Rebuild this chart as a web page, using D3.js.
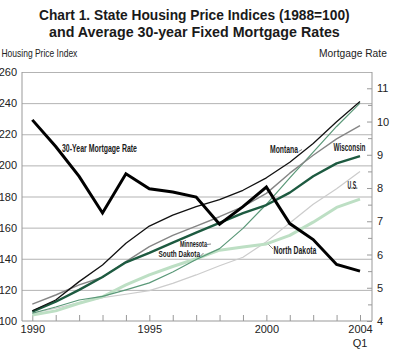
<!DOCTYPE html>
<html>
<head>
<meta charset="utf-8">
<script src="https://cdn.jsdelivr.net/npm/d3@7"></script>
<style>
  body { margin: 0; background: #fff; }
  svg { display: block; }
  text { font-family: "Liberation Sans Narrow", "Arial Narrow", "Liberation Sans", sans-serif; }
</style>
</head>
<body>
<div id="chart"></div>
<script>
const years = [1990, 1991, 1992, 1993, 1994, 1995, 1996, 1997, 1998, 1999, 2000, 2001, 2002, 2003, 2004];

// housing price index, 1988 = 100
const montana = [106.6, 113.5, 125.3, 136, 150, 161, 168, 173.5, 178, 184, 192, 202, 214, 228, 241];
const minnesota = [110.9, 116.7, 123.2, 128.1, 138.1, 147.8, 155, 161, 167, 173.5, 182, 195, 206.5, 217, 225.5];
const wisconsin = [106, 112.4, 120, 128.3, 137.7, 143.8, 150.3, 156.8, 163, 169.3, 174.5, 182.5, 193, 201.3, 206];
const southDakota = [105, 109, 113.5, 115.8, 120, 124.5, 131.5, 139.5, 146.5, 159.5, 175, 192, 208.5, 225, 240];
const unitedStates = [105, 108.2, 111.8, 115, 117.2, 119.5, 124.2, 129.6, 135.5, 141, 151, 163, 175, 185, 196];
const northDakota = [103.9, 106.5, 111.4, 115.6, 123.2, 129.6, 135, 140, 145.5, 147.5, 149.5, 155, 163.5, 173, 178.3];

// 30-year fixed mortgage rate, percent
const mortgageRate = [10.05, 9.25, 8.35, 7.25, 8.43, 7.98, 7.88, 7.73, 6.91, 7.44, 8.03, 6.93, 6.45, 5.7, 5.5];

const leftTicks = [100, 120, 140, 160, 180, 200, 220, 240, 260];
const rightTicks = [4, 5, 6, 7, 8, 9, 10, 11];
const xTickLabels = ["1990", "1995", "2000", "2004"];

const W = 393, H = 353;
const plot = { left: 22, right: 372, top: 72, bottom: 321 };

const svg = d3.select("#chart").append("svg")
    .attr("width", W)
    .attr("height", H);

const x = d3.scaleLinear().domain([1990, 2004]).range([32.3, 360]);
const yL = d3.scaleLinear().domain([100, 260]).range([plot.bottom, plot.top]);
const yR = d3.scaleLinear().domain([4, 11.49]).range([plot.bottom, plot.top]);

// squeeze a text horizontally to a given width (the original uses a condensed face)
function condensed(sel, px, py, width) {
    const natural = sel.node().getComputedTextLength();
    const sx = Math.min(1, width / natural);
    sel.attr("x", 0).attr("y", 0)
        .attr("transform", `translate(${px},${py}) scale(${sx},1)`);
    return sel;
}

// title
condensed(svg.append("text")
    .attr("font-size", 15.5)
    .attr("font-weight", "bold")
    .attr("fill", "#1a1a1a")
    .text("Chart 1. State Housing Price Indices (1988=100)"), 39, 19.5, 311);
condensed(svg.append("text")
    .attr("font-size", 15.5)
    .attr("font-weight", "bold")
    .attr("fill", "#1a1a1a")
    .text("and Average 30-year Fixed Mortgage Rates"), 49, 36.5, 291);

condensed(svg.append("text")
    .attr("font-size", 10.5)
    .attr("fill", "#222")
    .text("Housing Price Index"), 1.5, 56.5, 76);

condensed(svg.append("text")
    .attr("font-size", 10.5)
    .attr("fill", "#222")
    .text("Mortgage Rate"), 319, 56.5, 68);

// gridlines
const grid = svg.append("g")
    .attr("transform", `translate(${plot.left},0)`)
    .call(d3.axisLeft(yL).tickValues(leftTicks.slice(1)).tickSize(-(plot.right - plot.left)).tickFormat(""));
grid.select(".domain").remove();
grid.selectAll("line").attr("stroke", "#b3b3b3").attr("stroke-width", 1);

// left axis
const yAxisL = svg.append("g")
    .attr("transform", `translate(${plot.left},0)`)
    .call(d3.axisLeft(yL).tickValues(leftTicks).tickSize(0).tickPadding(5));
yAxisL.select(".domain").attr("stroke", "#999").attr("d", `M0,${plot.top}V${plot.bottom}`);
yAxisL.selectAll("text").attr("font-size", 11).attr("fill", "#222");

// right axis, with inward ticks and half-point minor ticks
const minorRight = d3.range(4.5, 11.5, 1);
const yAxisRMinor = svg.append("g")
    .attr("transform", `translate(${plot.right},0)`)
    .call(d3.axisLeft(yR).tickValues(minorRight).tickSize(4).tickFormat(""));
yAxisRMinor.select(".domain").remove();
yAxisRMinor.selectAll("line").attr("stroke", "#999");

const yAxisR = svg.append("g")
    .attr("transform", `translate(${plot.right},0)`)
    .call(d3.axisRight(yR).tickValues(rightTicks).tickSizeInner(-5).tickSizeOuter(0).tickPadding(5));
yAxisR.select(".domain").attr("stroke", "#999").attr("d", `M0,${plot.top}V${plot.bottom}`);
yAxisR.selectAll("line").attr("stroke", "#999");
yAxisR.selectAll("text").attr("font-size", 11).attr("fill", "#222").attr("x", 5);

// bottom axis, ticks point up
const xAxis = svg.append("g")
    .attr("transform", `translate(0,${plot.bottom})`)
    .call(d3.axisBottom(x).tickValues(years).tickSizeInner(-6).tickSizeOuter(0)
        .tickFormat(d => xTickLabels.includes(String(d)) ? String(d) : ""));
xAxis.select(".domain").attr("stroke", "#999").attr("d", `M${plot.left},0H${plot.right}`);
xAxis.selectAll("line").attr("stroke", "#999");
xAxis.selectAll("text").attr("font-size", 11).attr("fill", "#222").attr("y", 4).attr("dy", "0.71em");
svg.append("text")
    .attr("x", x(2004))
    .attr("y", 347)
    .attr("text-anchor", "middle")
    .attr("font-size", 11)
    .attr("fill", "#222")
    .text("Q1");

// series
const hpiSeries = [
    { name: "U.S.", values: unitedStates, color: "#cccccc", width: 1.2 },
    { name: "North Dakota", values: northDakota, color: "#bddfc4", width: 3 },
    { name: "South Dakota", values: southDakota, color: "#5a9878", width: 1.2 },
    { name: "Minnesota", values: minnesota, color: "#858585", width: 1.4 },
    { name: "Wisconsin", values: wisconsin, color: "#1d5a40", width: 2.4 },
    { name: "Montana", values: montana, color: "#111", width: 1.3 }
];

const lineL = d3.line()
    .x((d, i) => x(years[i]))
    .y(d => yL(d));

svg.append("g").selectAll("path")
    .data(hpiSeries)
    .enter()
    .append("path")
    .attr("d", d => lineL(d.values))
    .attr("fill", "none")
    .attr("stroke", d => d.color)
    .attr("stroke-width", d => d.width)
    .attr("stroke-linejoin", "round");

const lineR = d3.line()
    .x((d, i) => x(years[i]))
    .y(d => yR(d));

svg.append("path")
    .attr("d", lineR(mortgageRate))
    .attr("fill", "none")
    .attr("stroke", "#000")
    .attr("stroke-width", 3)
    .attr("stroke-linejoin", "miter");

// series labels: x, baseline, drawn width, font size, optional leader line
const labels = [
    { text: "30-Year Mortgage Rate", x: 62, y: 151.5, w: 75, fs: 10, leader: null },
    { text: "Montana", x: 270, y: 153, w: 28, fs: 10, leader: [[298.5, 151.5], [302, 149.5]] },
    { text: "Wisconsin", x: 333.5, y: 150.5, w: 32, fs: 10, leader: null },
    { text: "U.S.", x: 347.5, y: 189, w: 10, fs: 10, leader: null },
    { text: "Minnesota", x: 180, y: 246.8, w: 27, fs: 9.2, leader: [[207, 244.5], [211, 244]] },
    { text: "South Dakota", x: 158.5, y: 257.4, w: 41.5, fs: 9.2, leader: [[200.5, 256], [203.5, 253]] },
    { text: "North Dakota", x: 273.5, y: 254, w: 43, fs: 10, leader: [[273, 249], [268.5, 244.5]] }
];

const labelGroup = svg.append("g");
labels.forEach(l => {
    condensed(labelGroup.append("text")
        .attr("font-size", l.fs)
        .attr("font-weight", "bold")
        .attr("fill", "#1a1a1a")
        .text(l.text), l.x, l.y, l.w);
    if (l.leader) {
        labelGroup.append("path")
            .attr("d", d3.line()(l.leader))
            .attr("stroke", "#555")
            .attr("stroke-width", 0.7)
            .attr("fill", "none");
    }
});
</script>
</body>
</html>
